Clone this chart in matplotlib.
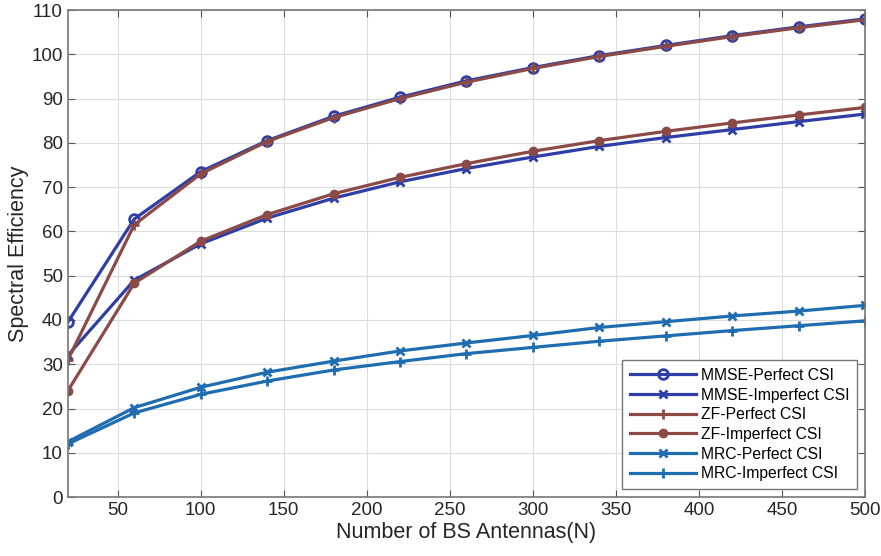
import numpy as np
import matplotlib.pyplot as plt

plt.rcParams['font.family'] = ['Liberation Sans', 'DejaVu Sans']

# number of BS antennas
N = [20, 60, 100, 140, 180, 220, 260, 300, 340, 380, 420, 460, 500]

mmse_perfect = [39.5, 62.8, 73.5, 80.5, 86.0, 90.3, 94.0, 97.0, 99.7, 102.0, 104.2, 106.2, 108.0]
mmse_imperfect = [32.0, 49.0, 57.2, 63.0, 67.5, 71.2, 74.2, 76.8, 79.2, 81.2, 83.0, 84.8, 86.5]
zf_perfect = [31.0, 61.5, 73.0, 80.3, 85.7, 90.0, 93.7, 96.8, 99.5, 101.8, 104.0, 106.0, 107.8]
zf_imperfect = [24.0, 48.3, 57.8, 63.8, 68.5, 72.2, 75.3, 78.1, 80.5, 82.6, 84.5, 86.3, 88.0]
mrc_perfect = [12.5, 20.2, 24.8, 28.2, 30.7, 33.0, 34.8, 36.5, 38.3, 39.6, 40.9, 42.0, 43.3]
mrc_imperfect = [12.0, 19.0, 23.2, 26.2, 28.7, 30.6, 32.4, 33.8, 35.2, 36.4, 37.6, 38.7, 39.8]

c_mmse = '#2f3ea6'
c_zf = '#8c4a47'
c_mrc = '#1f6db0'

fig = plt.figure(figsize=(8.81, 5.56), dpi=100)
ax = fig.add_axes([0.077, 0.106, 0.905, 0.876])

lw = 2.3
ax.plot(N, mmse_perfect, color=c_mmse, lw=lw, marker='o', ms=7, mfc='none', mew=2,
        label='MMSE-Perfect CSI')
ax.plot(N, mmse_imperfect, color=c_mmse, lw=lw, marker='x', ms=6, mew=2,
        label='MMSE-Imperfect CSI')
ax.plot(N, zf_perfect, color=c_zf, lw=lw, marker='+', ms=7, mew=2,
        label='ZF-Perfect CSI')
ax.plot(N, zf_imperfect, color=c_zf, lw=lw, marker='o', ms=6, mfc=c_zf, mew=1,
        label='ZF-Imperfect CSI')
ax.plot(N, mrc_perfect, color=c_mrc, lw=lw, marker='x', ms=6, mew=2,
        label='MRC-Perfect CSI')
ax.plot(N, mrc_imperfect, color=c_mrc, lw=lw, marker='+', ms=7, mew=2,
        label='MRC-Imperfect CSI')

ax.set_xlim(20, 500)
ax.set_ylim(0, 110)
ax.set_xticks(np.arange(50, 501, 50))
ax.set_yticks(np.arange(0, 111, 10))
ax.grid(True, color='#dddddd', lw=0.8)
ax.tick_params(direction='in', top=True, right=True, labelsize=13.5,
               colors='#555555', labelcolor='#262626', length=5)
for s in ax.spines.values():
    s.set_color('#777777')
    s.set_linewidth(1.2)

ax.set_xlabel('Number of BS Antennas(N)', fontsize=15.5, color='#262626', labelpad=2)
ax.set_ylabel('Spectral Efficiency', fontsize=15.5, color='#262626', labelpad=2)

leg = ax.legend(loc='lower right', fontsize=11.3, handlelength=4.2,
                handletextpad=0.3, borderpad=0.5,
                fancybox=False, framealpha=1, edgecolor='#777777',
                borderaxespad=0.5, labelspacing=0.3)

fig.savefig('out.png', dpi=100)
